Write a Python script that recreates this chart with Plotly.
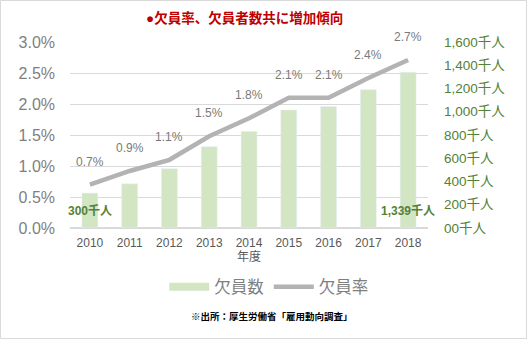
import plotly.graph_objects as go

years = ["2010", "2011", "2012", "2013", "2014", "2015", "2016", "2017", "2018"]
vacancies = [300, 380, 510, 700, 830, 1015, 1045, 1190, 1339]   # 千人
rate = [0.70, 0.92, 1.10, 1.48, 1.77, 2.10, 2.10, 2.42, 2.71]    # %
rate_labels = ["0.7%", "0.9%", "1.1%", "1.5%", "1.8%", "2.1%", "2.1%", "2.4%", "2.7%"]
right_tickvals = [0, 200, 400, 600, 800, 1000, 1200, 1400, 1600]
right_ticktext = ["00千人", "200千人", "400千人", "600千人", "800千人",
                  "1,000千人", "1,200千人", "1,400千人", "1,600千人"]
bar_label_idx = [0, 8]
bar_label_text = ["300千人", "1,339千人"]

FONT = "Liberation Sans, Arial, Noto Sans CJK JP"
BAR_C = "#d3e6c4"
LINE_C = "#b3b3b3"
GREEN = "#548235"
GRAY = "#7f7f7f"

L, R, T, B = 70, 99, 42, 111
PW, PH = 527 - L - R, 339 - T - B


def px_x(px):
    return (px - L) / PW


def px_y(py):
    return (339 - B - py) / PH


fig = go.Figure()
fig.add_trace(go.Bar(x=years, y=vacancies, yaxis="y2", marker_color=BAR_C,
                     showlegend=False, name="欠員数"))
fig.add_trace(go.Scatter(x=years, y=rate, yaxis="y", mode="lines",
                         line=dict(color=LINE_C, width=4.5), showlegend=False, name="欠員率"))
# legend proxies
fig.add_trace(go.Scatter(x=years[:1], y=[None], mode="lines", name="欠員数",
                         line=dict(color=BAR_C, width=8)))
fig.add_trace(go.Scatter(x=years[:1], y=[None], mode="lines", name="欠員率",
                         line=dict(color=LINE_C, width=4.5)))

ann = []
for i, (v, t) in enumerate(zip(rate, rate_labels)):
    ann.append(dict(x=i, y=v, xref="x", yref="y", text=t, showarrow=False,
                    yshift=23, font=dict(size=12, color="#7a7a7a", family=FONT)))
for i, t in zip(bar_label_idx, bar_label_text):
    ann.append(dict(x=i, y=0, xref="x", yref="y2", text="<b>%s</b>" % t,
                    showarrow=False, yanchor="middle", yshift=17,
                    font=dict(size=12, color=GREEN, family=FONT)))
ann.append(dict(xref="paper", yref="paper", x=px_x(244), y=px_y(18),
                text="<b>●欠員率、欠員者数共に増加傾向</b>", showarrow=False,
                font=dict(size=13.5, color="#c00000", family=FONT), yanchor="middle"))
ann.append(dict(xref="paper", yref="paper", x=px_x(272), y=px_y(316),
                text="<b>※出所：厚生労働省「雇用動向調査」</b>", showarrow=False,
                font=dict(size=9.5, color="#000000", family=FONT), yanchor="middle"))

fig.update_layout(
    width=527, height=339,
    margin=dict(l=L, r=R, t=T, b=B, autoexpand=False),
    paper_bgcolor="white", plot_bgcolor="white",
    bargap=0.6,
    font=dict(family=FONT),
    xaxis=dict(type="category", categoryorder="array", categoryarray=years,
               range=[-0.5, len(years) - 0.5], automargin=False,
               tickfont=dict(size=12, color="#595959"), ticklabelstandoff=6,
               title=dict(text="年度", font=dict(size=12, color="#595959"), standoff=0),
               showgrid=False, ticks="", showline=False),
    yaxis=dict(range=[0, 3], dtick=0.5, tickformat=".1f", ticksuffix="%", automargin=False,
               tickfont=dict(size=16, color=GRAY), ticklabelstandoff=14, showgrid=True,
               gridcolor="#d9d9d9", gridwidth=1, zeroline=True, zerolinecolor="#d9d9d9",
               ticks="", showline=False),
    yaxis2=dict(range=[0, 1600], overlaying="y", side="right", tickvals=right_tickvals,
                ticktext=right_ticktext, tickfont=dict(size=13.5, color=GREEN),
                ticklabelstandoff=15, automargin=False,
                showgrid=False, zeroline=False, ticks="", showline=False),
    legend=dict(orientation="h", xref="container", yref="container", x=0.51, y=1 - 287 / 339,
                xanchor="center", yanchor="middle", font=dict(size=16.5, color=GRAY),
                itemwidth=40, traceorder="normal"),
    annotations=ann,
    shapes=[dict(type="rect", xref="paper", yref="paper",
                 x0=px_x(0.5), x1=px_x(526.5), y0=px_y(338.5), y1=px_y(0.5),
                 line=dict(color="#d9d9d9", width=1), fillcolor="rgba(0,0,0,0)", layer="below")],
)

fig.write_html("out.html")
